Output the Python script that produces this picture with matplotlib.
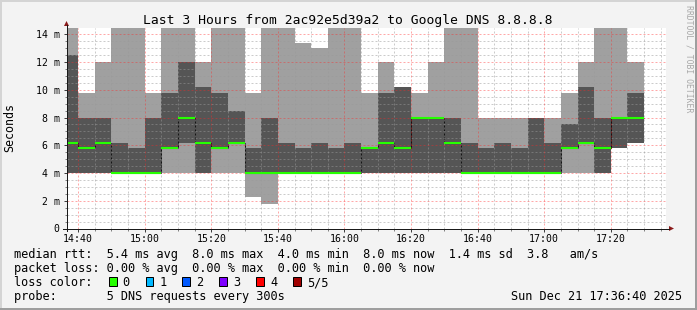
import matplotlib
matplotlib.use("Agg")
import matplotlib.pyplot as plt
from matplotlib.lines import Line2D
from matplotlib.patches import Rectangle, Polygon
import numpy as np

# ---------------- data ----------------
W, H = 697, 310
HIGH = 16.0  # values above the visible range (clipped at the top)

bin_starts = ["14:35", "14:40", "14:45", "14:50", "14:55", "15:00", "15:05",
              "15:10", "15:15", "15:20", "15:25", "15:30", "15:35", "15:40",
              "15:45", "15:50", "15:55", "16:00", "16:05", "16:10", "16:15",
              "16:20", "16:25", "16:30", "16:35", "16:40", "16:45", "16:50",
              "16:55", "17:00", "17:05", "17:10", "17:15", "17:20", "17:25"]

ping_min = [4.0, 4.0, 4.0, 4.0, 4.0, 4.0, 4.0, 4.0, 4.0, 4.0, 4.0, 2.3, 1.75,
            4.0, 4.0, 4.0, 4.0, 4.0, 4.0, 4.0, 4.0, 4.0, 4.0, 4.0, 4.0, 4.0,
            4.0, 4.0, 4.0, 4.0, 4.0, 4.0, 4.0, 5.8, 6.2]
ping_low = [4.0, 4.0, 4.0, 4.0, 4.0, 4.0, 5.8, 6.2, 4.0, 5.8, 6.2, 4.0, 4.0,
            4.0, 4.0, 4.0, 4.0, 4.0, 4.0, 4.0, 4.0, 4.0, 4.0, 4.0, 4.0, 4.0,
            4.0, 4.0, 4.0, 4.0, 5.8, 6.2, 4.0, 5.8, 6.2]
median = [6.2, 5.8, 6.2, 4.0, 4.0, 4.0, 5.8, 8.0, 6.2, 5.8, 6.2, 4.0, 4.0,
          4.0, 4.0, 4.0, 4.0, 4.0, 5.8, 6.2, 5.8, 8.0, 8.0, 6.2, 4.0, 4.0,
          4.0, 4.0, 4.0, 4.0, 5.8, 6.2, 5.8, 8.0, 8.0]
ping_high = [12.5, 8.0, 8.0, 6.2, 5.8, 8.0, 9.8, 12.0, 10.2, 9.8, 8.5, 5.8, 8.0,
             6.2, 5.8, 6.2, 5.8, 6.2, 5.8, 9.8, 10.2, 8.0, 8.0, 8.0, 6.2, 5.8,
             6.2, 5.8, 8.0, 6.2, 7.5, 10.2, 8.0, 8.0, 9.8]
ping_max = [HIGH, 9.8, 12.0, HIGH, HIGH, 9.8, HIGH, HIGH, 12.0, HIGH, HIGH, 9.8,
            HIGH, HIGH, 13.4, 13.0, HIGH, HIGH, 9.8, 12.0, 10.2, 9.8, 12.0, HIGH,
            HIGH, 8.0, 8.0, 8.0, 8.0, 8.0, 9.8, 12.0, HIGH, HIGH, 12.0]

x_tick_labels = ["14:40", "15:00", "15:20", "15:40", "16:00", "16:20",
                 "16:40", "17:00", "17:20"]
y_tick_values = [0, 2, 4, 6, 8, 10, 12, 14]
y_tick_labels = ["0", "2 m", "4 m", "6 m", "8 m", "10 m", "12 m", "14 m"]

window_start = "14:36:40"
window_end = "17:36:40"
step_minutes = 5

title = "Last 3 Hours from 2ac92e5d39a2 to Google DNS 8.8.8.8"
legend_rtt = "median rtt:  5.4 ms avg  8.0 ms max  4.0 ms min  8.0 ms now  1.4 ms sd  3.8   am/s"
legend_loss = "packet loss: 0.00 % avg  0.00 % max  0.00 % min  0.00 % now"
loss_labels = ["0", "1", "2", "3", "4", "5/5"]
loss_colors = ["#26ff00", "#00b8ff", "#0059ff", "#7e00ff", "#ff0000", "#a00000"]
probe_text = "probe:       5 DNS requests every 300s"
date_text = "Sun Dec 21 17:36:40 2025"


def to_min(s):
    parts = [int(p) for p in s.split(":")]
    while len(parts) < 3:
        parts.append(0)
    return (parts[0] - 14) * 60 + parts[1] + parts[2] / 60.0


# ---------------- figure ----------------
MONO = "DejaVu Sans Mono"
plt.rcParams["font.family"] = MONO

BG = "#f3f3f3"
fig = plt.figure(figsize=(W / 100, H / 100), dpi=100, facecolor=BG)


def fx(x):
    return x / W


def fy(y):
    return 1 - y / H


ax_left, ax_right = 67.0, 666.3
ax_bottom_row, ax_top_row = 228.5, 28.0
ax = fig.add_axes([fx(ax_left), fy(ax_bottom_row), (ax_right - ax_left) / W,
                   (ax_bottom_row - ax_top_row) / H])
ax.set_facecolor("white")
for sp in ax.spines.values():
    sp.set_visible(False)

starts = np.array([to_min(s) for s in bin_starts])
edges = np.append(starts, starts[-1] + step_minutes)


def ext(a):
    a = np.asarray(a, dtype=float)
    return np.append(a, a[-1])


LIGHT = "#a0a0a0"
DARK = "#555555"
ax.fill_between(edges, ext(ping_min), ext(ping_max), step="post",
                color=LIGHT, linewidth=0, zorder=1)
ax.fill_between(edges, ext(ping_low), ext(ping_high), step="post",
                color=DARK, linewidth=0, zorder=1.1)

# median step line (vertical connectors) and green median marks
ax.stairs(median, edges, baseline=None, color="#151515", linewidth=0.75, zorder=2)
ax.hlines(median, starts, starts + step_minutes, colors="#26ff00",
          linewidths=1.5, zorder=3)

x0, x1 = to_min(window_start), to_min(window_end)
y_top = 14.455
ax.set_xlim(x0, x1)
ax.set_ylim(0, y_top)

xt = [to_min(s) for s in x_tick_labels]
ax.set_xticks(xt)
ax.set_xticklabels(x_tick_labels)
ax.set_yticks(y_tick_values)
ax.set_yticklabels(y_tick_labels)

minor_x = [m for m in np.arange(40, x1, 5) if all(abs(m - t) > 1e-6 for t in xt)]
minor_y = [v for v in np.arange(0.5, y_top, 0.5) if abs(v / 2 - round(v / 2)) > 1e-6]
ax.set_xticks(minor_x, minor=True)
ax.set_yticks(minor_y, minor=True)
ax.tick_params(which="major", direction="out", length=2.2, width=0.72,
               color="#404040", labelsize=7.1, labelcolor="#000000")
ax.tick_params(which="minor", direction="out", length=1.4, width=0.72,
               color="#808080")
ax.tick_params(axis="x", which="major", pad=1.5)
ax.tick_params(axis="y", which="major", pad=3.2)

# dotted grid drawn on top of the smoke
dash = (0, (2, 2))
GRID = (0.6, 0.6, 0.6, 0.5)
MGRID = (1.0, 0.15, 0.15, 0.4)
for m in minor_x:
    ax.axvline(m, color=GRID, lw=0.72, linestyle=dash, zorder=2.5)
for v in minor_y:
    ax.axhline(v, color=GRID, lw=0.72, linestyle=dash, zorder=2.5)
for m in xt:
    ax.axvline(m, color=MGRID, lw=0.72, linestyle=dash, zorder=2.6)
for v in y_tick_values[1:]:
    ax.axhline(v, color=MGRID, lw=0.72, linestyle=dash, zorder=2.6)

# axis lines and arrows (figure pixel coords)
AX_COL = "#1a1a1a"
ARROW = "#8b1a1a"
fig.add_artist(Line2D([fx(63), fx(669)], [fy(228.5), fy(228.5)], color=AX_COL, lw=0.72))
fig.add_artist(Line2D([fx(66.5), fx(66.5)], [fy(231), fy(25)], color=AX_COL, lw=0.72))
fig.add_artist(Polygon([[fx(669), fy(226)], [fx(669), fy(231)], [fx(674), fy(228.5)]],
                       closed=True, color=ARROW, lw=0))
fig.add_artist(Polygon([[fx(64), fy(26)], [fx(69), fy(26)], [fx(66.5), fy(21)]],
                       closed=True, color=ARROW, lw=0))

# texts
fig.text(fx(348), fy(24), title, ha="center", va="baseline", fontsize=9.4, color="#000000")
fig.text(fx(10), fy(128), "Seconds", rotation=90, ha="center", va="center",
         fontsize=8.4, color="#000000")
fig.text(fx(688.5), fy(59), "RRDTOOL / TOBI OETIKER", rotation=270, ha="center",
         va="center", fontsize=5.9, color="#a8a8a8")

LEG_FS = 8.6
fig.text(fx(14), fy(258), legend_rtt, ha="left", va="baseline", fontsize=LEG_FS)
fig.text(fx(14), fy(272), legend_loss, ha="left", va="baseline", fontsize=LEG_FS)
fig.text(fx(14), fy(286), "loss color:", ha="left", va="baseline", fontsize=LEG_FS)
box_x = [109.3, 145.5, 182.3, 219.2, 256.2, 293.3]
lab_x = [122.5, 159.3, 196.3, 233.3, 270.3, 307.3]
for bx, lx, lab, col in zip(box_x, lab_x, loss_labels, loss_colors):
    fig.add_artist(Rectangle((fx(bx), fy(286)), 7.5 / W, 8.7 / H, facecolor=col,
                             edgecolor="#000000", lw=0.72))
    fig.text(fx(lx), fy(286), lab, ha="left", va="baseline", fontsize=LEG_FS)
fig.text(fx(14), fy(300), probe_text, ha="left", va="baseline", fontsize=LEG_FS)
fig.text(fx(682), fy(300), date_text, ha="right", va="baseline", fontsize=LEG_FS)

# 3D-ish frame
fig.add_artist(Rectangle((0, fy(2)), 1, 2 / H, facecolor="#d4d4d4", lw=0))
fig.add_artist(Rectangle((0, 0), 2 / W, 1, facecolor="#d4d4d4", lw=0))
fig.add_artist(Rectangle((fx(695), 0), 2 / W, 1, facecolor="#9e9e9e", lw=0))
fig.add_artist(Rectangle((0, 0), 1, 2 / H, facecolor="#9e9e9e", lw=0))

fig.savefig("out.png", dpi=100, facecolor=BG)
